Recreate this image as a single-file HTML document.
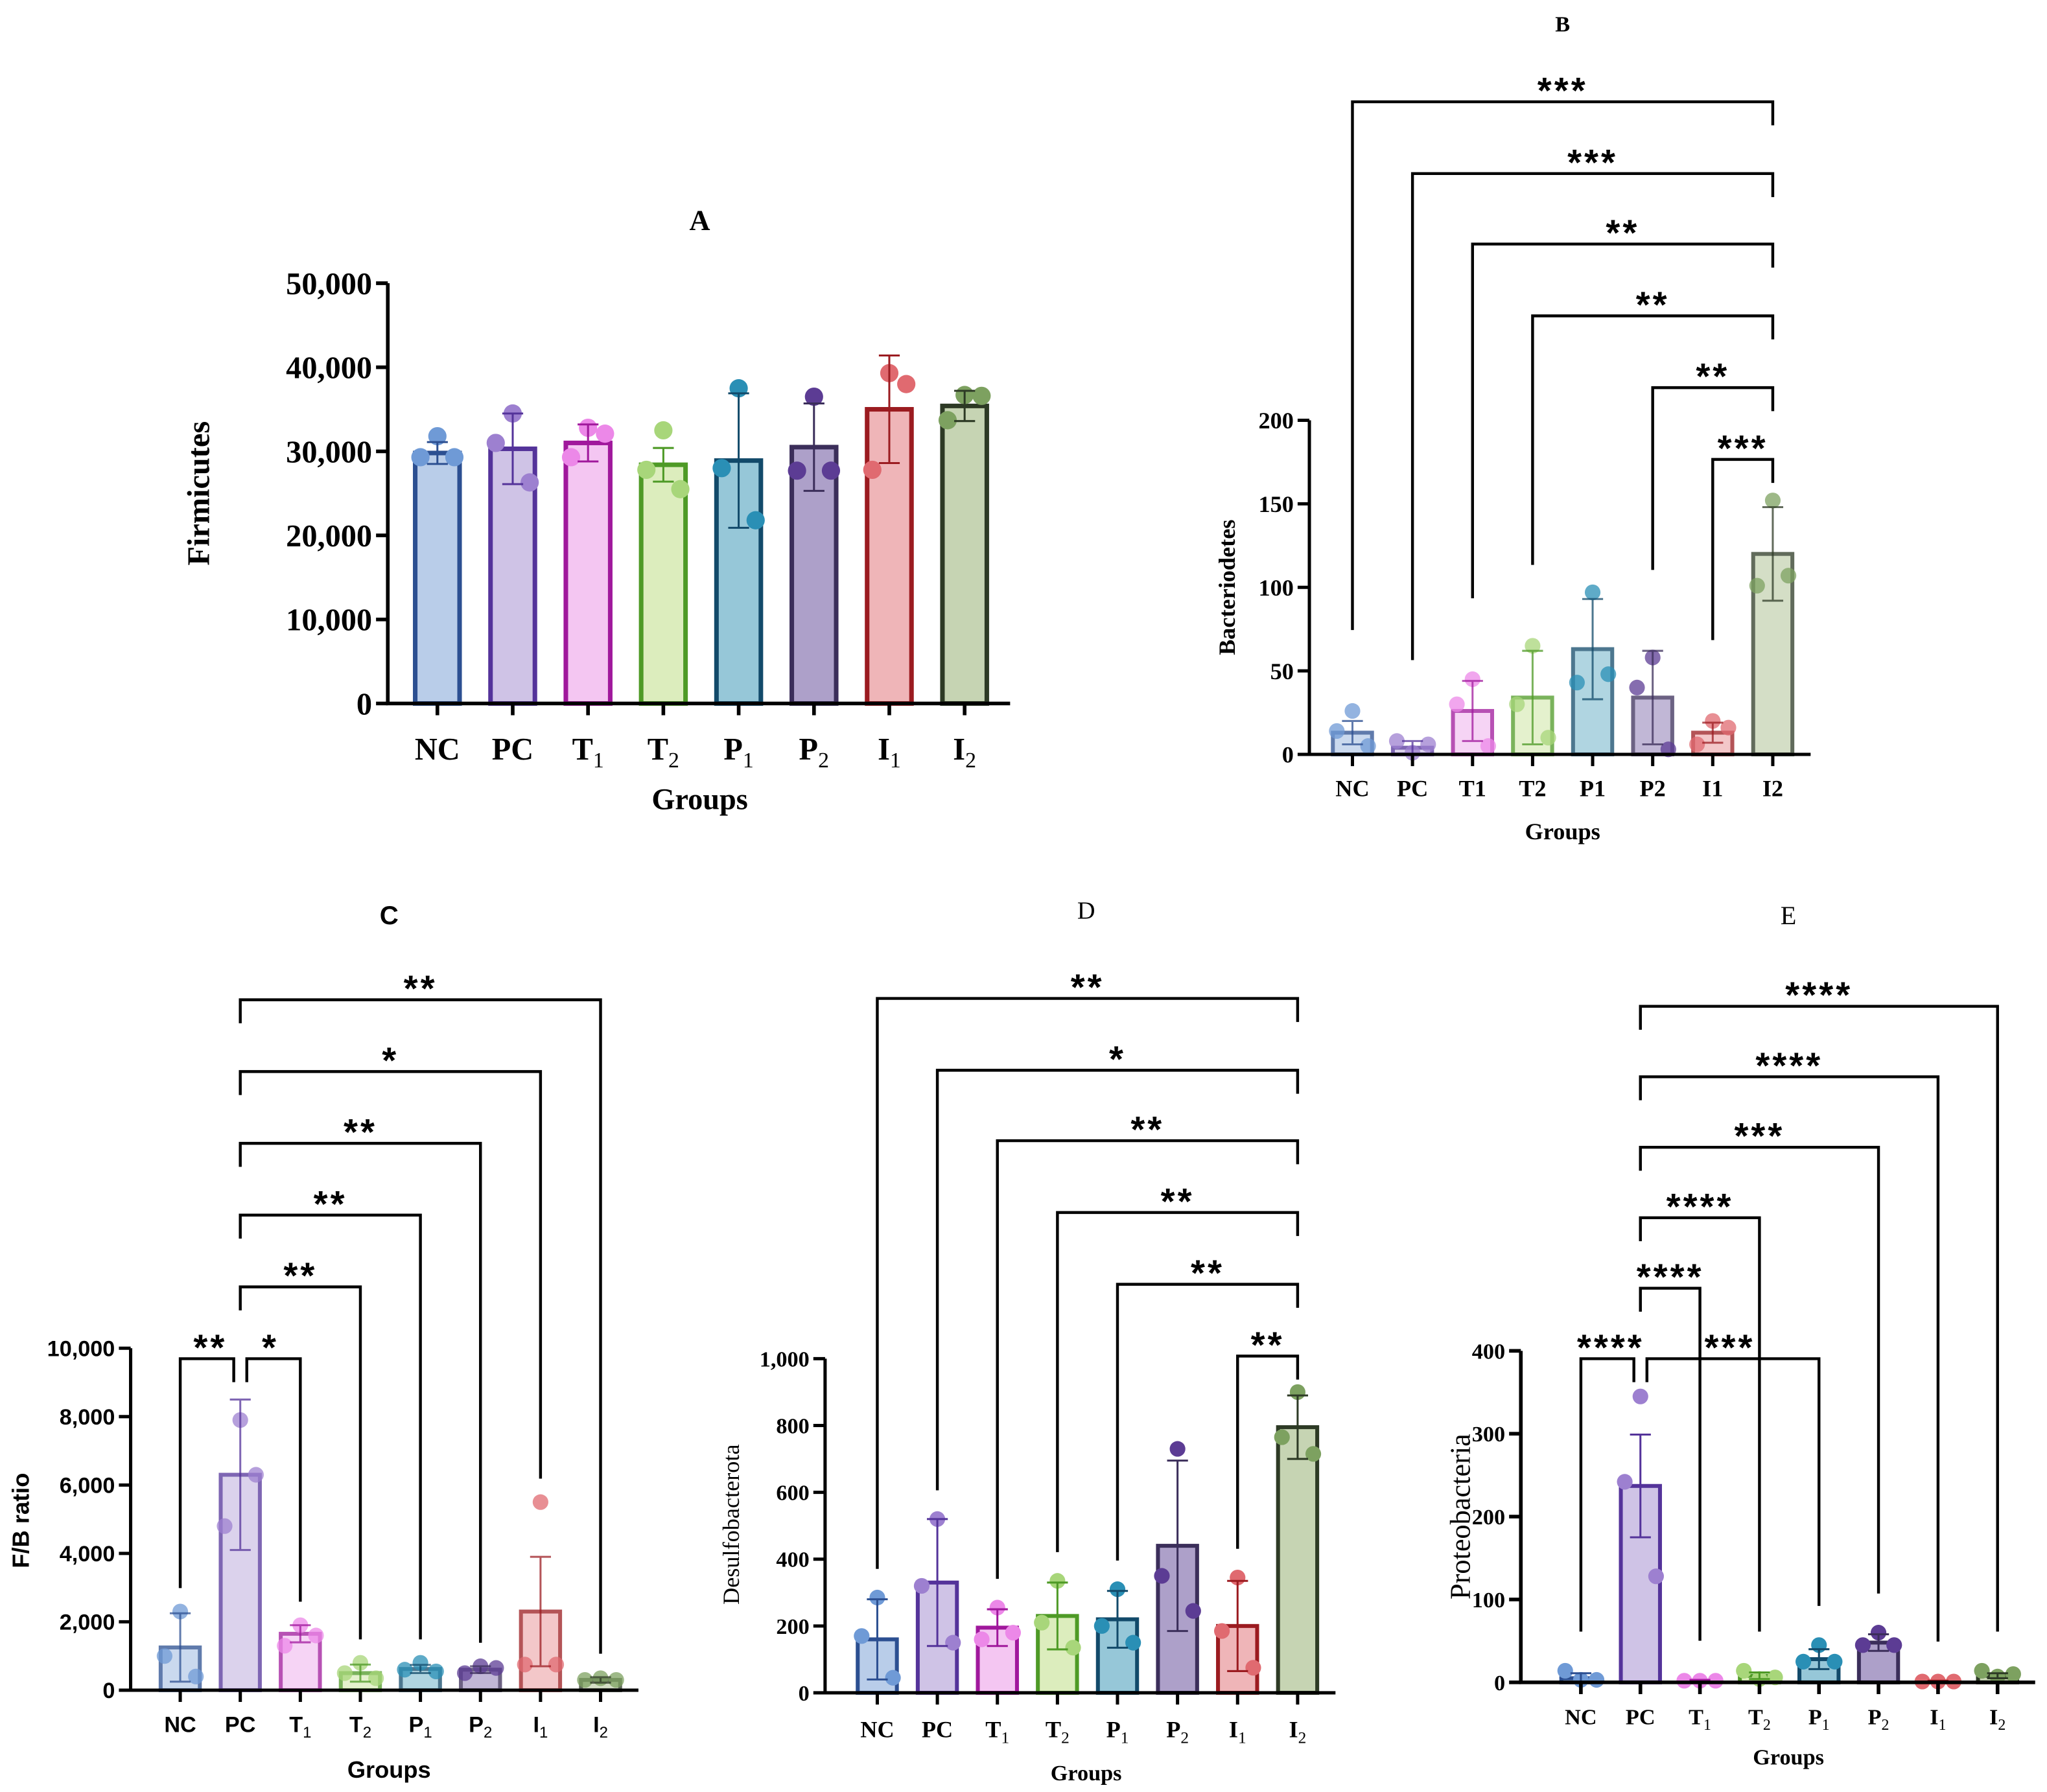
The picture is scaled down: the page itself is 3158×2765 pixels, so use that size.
<!DOCTYPE html>
<html><head><meta charset="utf-8"><style>
html,body{margin:0;padding:0;background:#fff;}
svg{display:block;}
</style></head><body>
<svg id="fig" xmlns="http://www.w3.org/2000/svg" width="3158" height="2765" viewBox="0 0 1568 1373"></svg>
<script>
// ---------- Data ----------
const groupsSub = ["NC","PC","T1","T2","P1","P2","I1","I2"];
const fills  = ["#b9cde9","#cfc3e6","#f4c6f2","#dcedbd","#96c7d8","#ada0c9","#efb5b8","#c6d4b3"];
const strokes= ["#2c4f91","#54339a","#a0189c","#4e9a26","#124a6a","#3b2e5a","#9b1b20","#2d3a25"];
const dots   = ["#6f9ad6","#9d80d0","#ec88e8","#a8d67a","#2a8fb5","#5c3c94","#e06a70","#7da160"];

const aMeans = [29800,30300,31000,28400,28900,30500,35000,35400];
const aSd    = [1300,4200,2200,2000,8000,5200,6400,1800];
const aPts   = [[31800,29300,29300],[34500,31000,26300],[32800,29300,32100],[32500,27800,25500],[37500,28000,21800],[36500,27700,27700],[39300,27800,38000],[36700,33700,36600]];
const aTicks = [0,10000,20000,30000,40000,50000];
const aTickLabels = ["0","10,000","20,000","30,000","40,000","50,000"];

const bMeans = [13,4,26,34,63,34,13,120];
const bSd    = [7,4,18,28,30,28,6,28];
const bPts   = [[26,14,5],[1,8,6],[45,30,5],[65,30,10],[97,43,48],[58,40,3],[20,6,16],[152,101,107]];
const bTicks = [0,50,100,150,200];
const bTickLabels = ["0","50","100","150","200"];
const bBrackets = [[0,7,"***"],[1,7,"***"],[2,7,"**"],[3,7,"**"],[5,7,"**"],[6,7,"***"]];
const bLevels = [78,133,187,242,297,352];

const cMeans = [1250,6300,1650,500,620,600,2300,300];
const cSd    = [1000,2200,250,250,120,100,1600,80];
const cPts   = [[2300,1000,400],[7900,4800,6300],[1900,1300,1600],[800,500,350],[800,600,550],[700,500,650],[5500,750,750],[350,300,300]];
const cTicks = [0,2000,4000,6000,8000,10000];
const cTickLabels = ["0","2,000","4,000","6,000","8,000","10,000"];
const cBrackets = [[1,0,"**"],[1,2,"*"],[1,3,"**"],[1,4,"**"],[1,5,"**"],[1,6,"*"],[1,7,"**"]];
const cLevels = [1041,1041,986,931,876,821,766];

const dMeans = [160,330,195,230,220,440,200,795];
const dSd    = [120,190,55,100,85,255,135,95];
const dPts   = [[285,170,45],[520,320,150],[255,160,180],[335,210,135],[310,200,150],[730,350,245],[345,185,75],[900,765,715]];
const dTicks = [0,200,400,600,800,1000];
const dTickLabels = ["0","200","400","600","800","1,000"];
const dBrackets = [[0,7,"**"],[1,7,"*"],[2,7,"**"],[3,7,"**"],[4,7,"**"],[6,7,"**"]];
const dLevels = [765,820,874,929,984,1039];

const eMeans = [5,237,2,8,28,48,1,8];
const eSd    = [6,62,1,4,12,10,1,3];
const ePts   = [[3,14,3],[345,242,128],[2,2,2],[4,14,6],[45,25,25],[60,45,45],[1,1,1],[7,14,10]];
const eTicks = [0,100,200,300,400];
const eTickLabels = ["0","100","200","300","400"];
const eBrackets = [[1,0,"****"],[1,2,"****"],[1,3,"****"],[1,4,"***"],[1,5,"***"],[1,6,"****"],[1,7,"****"]];
const eLevels = [1041,987,933,1041,879,825,771];

// ---------- Helpers ----------
const NS = "http://www.w3.org/2000/svg";
const svg = document.getElementById("fig");
function mk(tag, attrs, parent){
  const e = document.createElementNS(NS, tag);
  for (const k in attrs) e.setAttribute(k, attrs[k]);
  (parent||svg).appendChild(e);
  return e;
}
const SERIF = '"Liberation Serif", serif';
const SANS = '"Liberation Sans", sans-serif';

function panel(cfg){
  const g = mk("g", {});
  
  
  const y = v => cfg.y0 - (v / cfg.vmax) * (cfg.y0 - cfg.ytop);
  const x = i => cfg.x0 + cfg.step * i;
  cfg.means.forEach((m, i) => {
    const r = mk("rect", {x: x(i) - cfg.bw/2, y: y(m), width: cfg.bw, height: cfg.y0 - y(m),
      fill: fills[i], stroke: strokes[i], "stroke-width": cfg.bsw, opacity: cfg.op}, g);
    
    
  });
  cfg.pts.forEach((ps, i) => {
    ps.forEach((p, j) => {
      const dx = [0, -1, 1][j] * cfg.jit;
      const c = mk("circle", {cx: x(i) + dx, cy: y(p), r: cfg.pr, fill: dots[i], opacity: cfg.op}, g);
      
      
    });
  });
  cfg.means.forEach((m, i) => {
    const hi = y(m + cfg.sd[i]), lo = y(Math.max(0, m - cfg.sd[i]));
    const e = mk("path", {d: `M${x(i)},${lo}V${hi}M${x(i)-8},${hi}H${x(i)+8}M${x(i)-8},${lo}H${x(i)+8}`,
      stroke: strokes[i], "stroke-width": 1.5, fill: "none", opacity: cfg.op}, g);
    
    
  });
  const xr = x(7) + cfg.step/2 + 6;
  const ax = mk("path", {d: `M${cfg.ax},${cfg.ytop}V${cfg.y0}H${xr}`, stroke: "#000", "stroke-width": cfg.asw, fill: "none"}, g);
  
  
  cfg.ticks.forEach((t, k) => {
    mk("line", {x1: cfg.ax - 9, x2: cfg.ax, y1: y(t), y2: y(t), stroke: "#000", "stroke-width": cfg.asw}, g);
    const tl = mk("text", {x: cfg.ax - 12, y: y(t) + cfg.tfs*0.35, "text-anchor": "end", "font-family": cfg.tfont,
      "font-weight": cfg.tbold ? "bold" : "normal", "font-size": cfg.tfs}, g);
    tl.textContent = cfg.tickLabels[k];
    
    
  });
  groupsSub.forEach((lab, i) => {
    mk("line", {x1: x(i), x2: x(i), y1: cfg.y0, y2: cfg.y0 + 9, stroke: "#000", "stroke-width": cfg.asw}, g);
    const t = mk("text", {x: x(i), y: cfg.y0 + cfg.xly, "text-anchor": "middle", "font-family": cfg.xfont,
      "font-weight": "bold", "font-size": cfg.xfs}, g);
    
    
    if (cfg.subs && lab.length === 2 && /\d/.test(lab[1])) {
      t.appendChild(document.createTextNode(lab[0]));
      const s = mk("tspan", {"font-size": cfg.xfs*0.7, "font-weight": "normal", dy: cfg.xfs*0.25}, t);
      s.textContent = lab[1];
    } else t.textContent = lab;
  });
  const tt = mk("text", {x: cfg.tx, y: cfg.ty, "text-anchor": "middle", "font-family": cfg.titleFont,
    "font-weight": cfg.titleBold ? "bold" : "normal", "font-size": cfg.titleFs}, g);
  tt.textContent = cfg.title;
  
  
  const gx = mk("text", {x: cfg.tx, y: cfg.gy, "text-anchor": "middle", "font-family": cfg.gfont,
    "font-weight": "bold", "font-size": cfg.gfs}, g);
  gx.textContent = "Groups";
  
  
  const yt = mk("text", {x: cfg.ytx, y: cfg.yty, "text-anchor": "middle", "font-family": cfg.ytfont,
    "font-weight": cfg.ytbold ? "bold" : "normal", "font-size": cfg.ytfs,
    transform: `rotate(-90 ${cfg.ytx} ${cfg.yty})`}, g);
  yt.textContent = cfg.ytitle;
  
  
  (cfg.brackets || []).forEach((b, k) => {
    const [a, c, stars] = b;
    const ly = cfg.levels[k];
    const common = cfg.common;
    const other = (a === common) ? c : a;
    let xs = x(common);
    if (cfg.levels.filter(v => v === ly).length > 1) xs += (other > common ? 5 : -5);
    const xo = x(other);
    const top = Math.max(cfg.means[other] + cfg.sd[other], ...cfg.pts[other]);
    const bot = y(top) - cfg.gap;
    const p = mk("path", {d: `M${xs},${ly + 18}V${ly}H${xo}V${bot}`, stroke: "#000", "stroke-width": 2.2, fill: "none"}, g);
    
    
    const st = mk("text", {x: (x(a) + x(c)) / 2, y: ly + 1, "text-anchor": "middle", "font-family": SANS,
      "font-weight": "bold", "font-size": 28, "letter-spacing": 2}, g);
    st.textContent = stars;
    
    
  });
}

panel({name:"panel-a", means:aMeans, sd:aSd, pts:aPts, ticks:aTicks, tickLabels:aTickLabels, vmax:50000,
  x0:335, step:57.7, bw:34, bsw:3.5, op:1, pr:7, jit:13, y0:539, ytop:217, ax:297, asw:2.8,
  tfont:SERIF, tbold:true, tfs:24, xfont:SERIF, xfs:24, xly:43, subs:true,
  title:"A", tx:536, ty:176, titleFont:SERIF, titleBold:true, titleFs:22,
  gy:620, gfont:SERIF, gfs:23, ytitle:"Firmicutes", ytx:160, yty:378, ytfont:SERIF, ytbold:true, ytfs:24});

panel({name:"panel-b", means:bMeans, sd:bSd, pts:bPts, ticks:bTicks, tickLabels:bTickLabels, vmax:200,
  x0:1036, step:46, bw:30, bsw:3, op:0.75, pr:6, jit:12, y0:578, ytop:322, ax:1003, asw:2.5,
  tfont:SERIF, tbold:true, tfs:18, xfont:SERIF, xfs:18, xly:32, subs:false,
  title:"B", tx:1197, ty:24, titleFont:SERIF, titleBold:true, titleFs:17,
  gy:643, gfont:SERIF, gfs:18, ytitle:"Bacteriodetes", ytx:946, yty:450, ytfont:SERIF, ytbold:true, ytfs:18,
  brackets:bBrackets, levels:bLevels, gap:62, common:7});

panel({name:"panel-c", means:cMeans, sd:cSd, pts:cPts, ticks:cTicks, tickLabels:cTickLabels, vmax:10000,
  x0:138, step:46, bw:30, bsw:3, op:0.75, pr:6, jit:12, y0:1295, ytop:1033, ax:100, asw:2.5,
  tfont:SANS, tbold:true, tfs:17, xfont:SANS, xfs:17, xly:32, subs:true,
  title:"C", tx:298, ty:708, titleFont:SANS, titleBold:true, titleFs:20,
  gy:1362, gfont:SANS, gfs:18, ytitle:"F/B ratio", ytx:22, yty:1165, ytfont:SANS, ytbold:true, ytfs:18,
  brackets:cBrackets, levels:cLevels, gap:18, common:1});

panel({name:"panel-d", means:dMeans, sd:dSd, pts:dPts, ticks:dTicks, tickLabels:dTickLabels, vmax:1000,
  x0:672, step:46, bw:30, bsw:3, op:1, pr:6, jit:12, y0:1297, ytop:1041, ax:632, asw:2.5,
  tfont:SERIF, tbold:true, tfs:17, xfont:SERIF, xfs:18, xly:34, subs:true,
  title:"D", tx:832, ty:704, titleFont:SERIF, titleBold:false, titleFs:19,
  gy:1364, gfont:SERIF, gfs:17, ytitle:"Desulfobacterota", ytx:566, yty:1168, ytfont:SERIF, ytbold:false, ytfs:18,
  brackets:dBrackets, levels:dLevels, gap:22, common:7});

panel({name:"panel-e", means:eMeans, sd:eSd, pts:ePts, ticks:eTicks, tickLabels:eTickLabels, vmax:400,
  x0:1211, step:45.6, bw:30, bsw:3, op:1, pr:6, jit:12, y0:1289, ytop:1035, ax:1165, asw:2.8,
  tfont:SERIF, tbold:true, tfs:17, xfont:SERIF, xfs:17, xly:32, subs:true,
  title:"E", tx:1370, ty:708, titleFont:SERIF, titleBold:false, titleFs:20,
  gy:1352, gfont:SERIF, gfs:17, ytitle:"Proteobacteria", ytx:1126, yty:1162, ytfont:SERIF, ytbold:false, ytfs:22,
  brackets:eBrackets, levels:eLevels, gap:30, common:1});
</script>
</body></html>
